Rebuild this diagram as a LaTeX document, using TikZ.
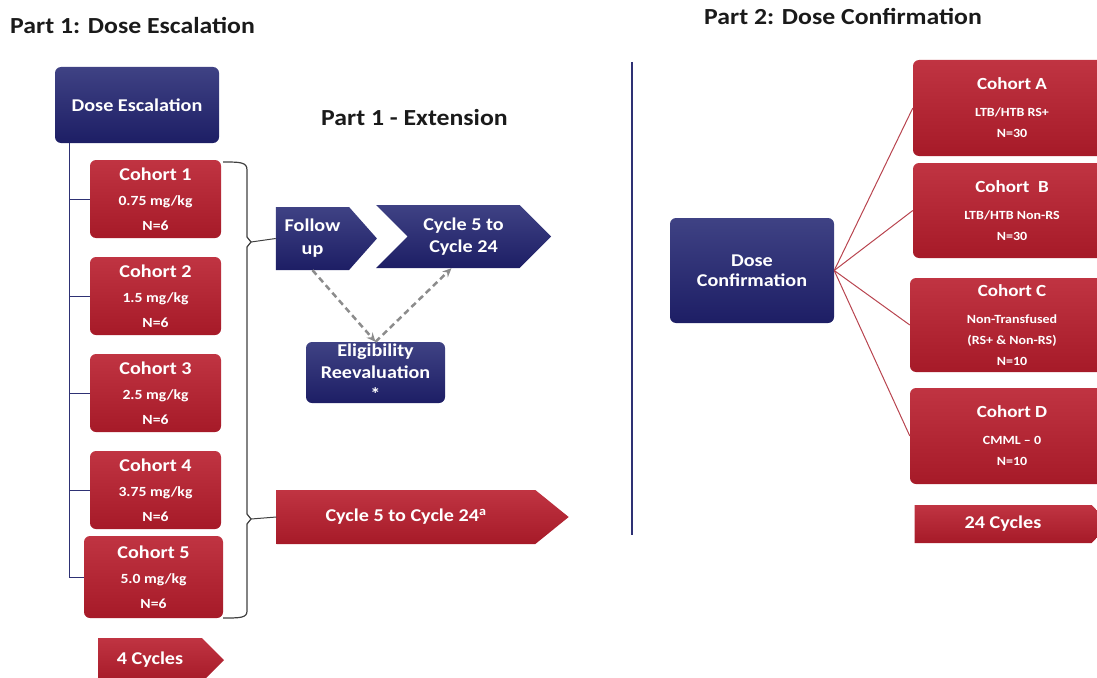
\documentclass[tikz,border=0pt]{standalone}
\usepackage{fontspec}
\setmainfont[FakeStretch=1.12]{Carlito}
\usetikzlibrary{shapes.symbols,arrows.meta}

\definecolor{navytop}{HTML}{3F4284}
\definecolor{navybot}{HTML}{1D1E65}
\definecolor{redtop}{HTML}{C03442}
\definecolor{redbot}{HTML}{A61A28}
\definecolor{navyline}{HTML}{2E3174}
\definecolor{fanred}{HTML}{B8444F}
\definecolor{dashgray}{HTML}{8C8C8C}
\definecolor{titleblack}{HTML}{1A1A1A}

\newcommand\boxhead[1]{{\fontsize{18}{25}\selectfont #1}}
\newcommand\sidehead[1]{{\fontsize{17}{21}\selectfont #1}}

\tikzset{
  title/.style={anchor=west, inner sep=0pt, text=titleblack, font=\bfseries\fontsize{23}{26}\selectfont},
  navybox/.style={rectangle, rounded corners=6pt, top color=navytop, bottom color=navybot,
    text=white, align=center, inner sep=0pt, font=\bfseries\fontsize{18}{22}\selectfont},
  redbox/.style={rectangle, rounded corners=6pt, top color=redtop, bottom color=redbot,
    text=white, align=center, inner sep=0pt, font=\bfseries\fontsize{14}{25}\selectfont,
    minimum width=131pt, minimum height=78pt},
  sidebox/.style={redbox, font=\bfseries\fontsize{12.5}{21}\selectfont,
    minimum width=200pt, minimum height=95pt},
  navysig/.style={signal, signal to=east, top color=navytop, bottom color=navybot,
    text=white, align=center, inner sep=0pt, font=\bfseries\fontsize{18}{23}\selectfont},
  redsig/.style={signal, signal to=east, top color=redtop, bottom color=redbot,
    text=white, align=center, inner sep=0pt, font=\bfseries\fontsize{18}{22}\selectfont},
  trunk/.style={draw=navyline, line width=1pt},
  bracket/.style={draw=black!75, line width=1.2pt},
  fan/.style={draw=fanred, line width=1pt},
  dasharrow/.style={draw=dashgray, line width=2.5pt, dash pattern=on 6pt off 4pt,
    -{Stealth[length=9pt,width=8pt]}}
}

\begin{document}
\begin{tikzpicture}[x=1pt,y=-1pt]
\useasboundingbox (0,0) rectangle (1097,677);

% titles
\node (t1) at (10,25) [title] {Part 1: Dose Escalation};
\node (t2) at (704,16) [title] {Part 2: Dose Confirmation};
\node (t3) at (321,118) [title] {Part 1 - Extension};

% part 1: dose escalation
\node (esc) at (137,105) [navybox, minimum width=164pt, minimum height=76pt] {Dose Escalation};

\node (c1) at (155.5,199) [redbox] {\boxhead{Cohort 1}\\0.75 mg/kg\\N=6};
\node (c2) at (155.5,296) [redbox] {\boxhead{Cohort 2}\\1.5 mg/kg\\N=6};
\node (c3) at (155.5,393) [redbox] {\boxhead{Cohort 3}\\2.5 mg/kg\\N=6};
\node (c4) at (155.5,490) [redbox] {\boxhead{Cohort 4}\\3.75 mg/kg\\N=6};
\node (c5) at (153.5,577) [redbox, minimum width=139pt, minimum height=82pt] {\boxhead{Cohort 5}\\5.0 mg/kg\\N=6};

\foreach \c in {c1,c2,c3,c4,c5}
  \draw[trunk] ([xshift=15pt]esc.south west) |- (\c.west);

\node (four) at (150,660) [redsig, minimum width=126pt, minimum height=44pt, signal pointer angle=90] {4 Cycles};

% bracket
\coordinate (tipA) at (251,242);
\coordinate (tipB) at (251,519);
\draw[bracket] (223,162) .. controls (240,162) and (247,162) .. (247,170) -- (247,237)
  -- (tipA) -- (247,247) -- (247,514) -- (tipB) -- (247,524) -- (247,611)
  .. controls (247,618) and (240,618) .. (223,618);

% part 1: extension
\node (follow) at (312.5,238.5) [navysig, minimum width=101pt, minimum height=63pt, signal pointer angle=97] {Follow\\up};
\node (cyc) at (463.5,236.5) [navysig, signal from=west, minimum width=175pt, minimum height=63pt, signal pointer angle=90, font=\bfseries\fontsize{18}{22}\selectfont] {Cycle 5 to\\Cycle 24};
\node (elig) at (375.5,372.5) [navybox, minimum width=139pt, minimum height=61pt] {Eligibility\\Reevaluation\\*};
\node (cyc2) at (406,517) [redsig, minimum width=292pt, minimum height=54pt, signal pointer angle=78] {Cycle 5 to Cycle 24\textsuperscript{a}};

\draw[bracket, line width=1pt] (tipA) -- (follow.west);
\draw[bracket, line width=1pt] (tipB) -- (cyc2.west);
\draw[dasharrow] (follow.south) -- (elig.north);
\draw[dasharrow] (elig.north) -- ([xshift=-12pt]cyc.south);

% divider
\draw[navyline, line width=1.2pt] (632,62) -- (632,535);

% part 2: dose confirmation
\node (conf) at (752,270.5) [navybox, minimum width=164pt, minimum height=105pt, font=\bfseries\fontsize{18}{20}\selectfont] {Dose\\Confirmation};

\node (ca) at (1012,108) [sidebox, minimum width=198pt, minimum height=96pt] {\sidehead{Cohort A}\\[6pt]LTB/HTB RS+\\N=30};
\node (cb) at (1012,210.5) [sidebox, minimum width=198pt] {\sidehead{Cohort~~B}\\[6pt]LTB/HTB Non-RS\\N=30};
\node (cc) at (1012,325) [sidebox, minimum width=204pt, minimum height=94pt] {\sidehead{Cohort C}\\[6pt]Non-Transfused\\(RS+ \& Non-RS)\\N=10};
\node (cd) at (1012,436) [sidebox, minimum width=204pt, minimum height=96pt] {\sidehead{Cohort D}\\[6pt]CMML -- 0\\N=10};

\foreach \c in {ca,cb,cc,cd}
  \draw[fan] (conf.east) -- (\c.west);

\node (twentyfour) at (1003,524) [redsig, minimum width=196pt, minimum height=38pt, signal pointer angle=90] {24 Cycles};
\end{tikzpicture}
\end{document}
